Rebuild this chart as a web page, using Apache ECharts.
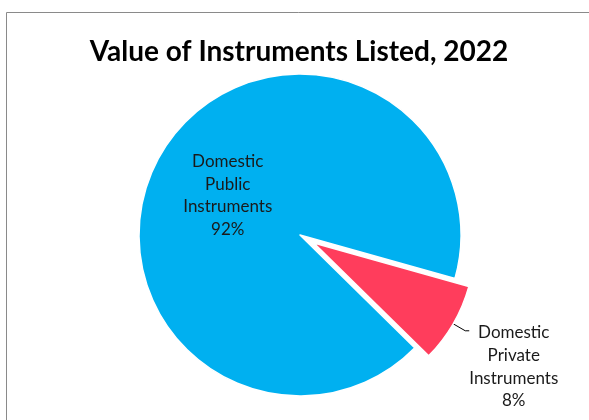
<!DOCTYPE html>
<html>
<head>
<meta charset="utf-8">
<script src="https://cdn.jsdelivr.net/npm/echarts@6/dist/echarts.min.js"></script>
<style>
html,body{margin:0;padding:0;background:#fff;}
#chart{width:589px;height:420px;}
</style>
</head>
<body>
<div id="chart"></div>
<script>
var titleText = 'Value of Instruments Listed, 2022';
var categories = ['Domestic Public Instruments', 'Domestic Private Instruments'];
var values = [92, 8];
var colors = ['#00B0F0', '#FF3D5C'];

function fmt(p) {
  var lines = p.name.split(' ');
  lines.push(Math.round(p.percent) + '%');
  return lines.map(function (l) { return '{a|' + l + '}'; }).join('\n');
}

var labelFont = { fontFamily: 'Lato', fontSize: 17, color: '#1a1a1a', align: 'center', lineHeight: 22.7 };

var data = categories.map(function (c, i) {
  var item = {
    name: c,
    value: values[i],
    itemStyle: { color: colors[i] }
  };
  if (i === 0) {
    item.label = { position: 'inside', formatter: fmt, padding: [5, 0, 0, 0], rich: { a: labelFont } };
  } else {
    item.selected = true;
    item.label = {
      position: 'outside',
      formatter: fmt,
      distanceToLabelLine: 0,
      padding: [72, 0, 0, 0],
      rich: { a: labelFont }
    };
    item.labelLine = { show: true, length: 14, length2: 4, smooth: false,
      lineStyle: { color: '#000', width: 1 } };
  }
  return item;
});

var chart = echarts.init(document.getElementById('chart'), null, { renderer: 'canvas' });
chart.setOption({
  animation: false,
  backgroundColor: '#fff',
  title: {
    text: titleText,
    left: 299,
    textAlign: 'center',
    top: 38,
    padding: 0,
    textStyle: { fontFamily: 'Lato', fontWeight: 'bold', fontSize: 28, color: '#000' }
  },
  graphic: [{
    type: 'rect',
    shape: { x: 6.5, y: 12.5, width: 700, height: 500 },
    style: { fill: 'none', stroke: '#8a8a8a', lineWidth: 1 },
    silent: true
  }],
  series: [{
    type: 'pie',
    center: [300, 235],
    radius: 161,
    startAngle: -44.5,
    clockwise: true,
    selectedMode: 'single',
    selectedOffset: 16,
    avoidLabelOverlap: false,
    itemStyle: { borderColor: '#fff', borderWidth: 1.5 },
    select: { itemStyle: { borderColor: '#fff', borderWidth: 1.5 } },
    emphasis: { disabled: true },
    label: { show: true },
    labelLine: { show: false },
    data: data
  }]
});
</script>
</body>
</html>
